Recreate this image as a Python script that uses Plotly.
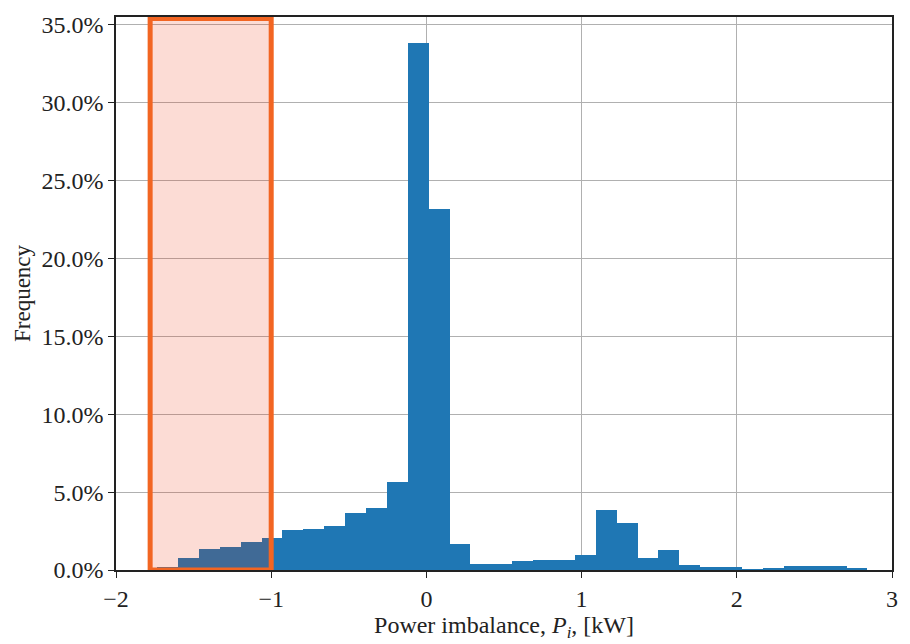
import plotly.graph_objects as go

# Histogram bins (kW): first edge and bin width, 34 bins
bin_start = -1.735
bin_width = 0.1346
# Frequency per bin (%)
freq = [0.20, 0.74, 1.38, 1.46, 1.78, 2.04, 2.55, 2.63, 2.84, 3.65, 4.01, 5.66,
        33.85, 23.2, 1.70, 0.36, 0.40, 0.55, 0.66, 0.66, 0.98, 3.84, 3.01, 0.75,
        1.31, 0.32, 0.17, 0.17, 0.05, 0.12, 0.23, 0.23, 0.23, 0.10]
centers = [bin_start + bin_width * (k + 0.5) for k in range(len(freq))]

x_ticks = [-2, -1, 0, 1, 2, 3]
y_ticks = [0, 5, 10, 15, 20, 25, 30, 35]
box_x = [-1.78, -1.0]
box_y = [0, 35.4]

fig = go.Figure()
fig.add_trace(go.Bar(x=centers, y=freq, width=bin_width,
                     marker=dict(color="#1f77b4", line=dict(width=0))))

# highlighted region: translucent fill over everything, orange outline
fig.add_shape(type="rect", xref="x", yref="y", x0=box_x[0], x1=box_x[1],
              y0=box_y[0], y1=box_y[1], layer="above",
              fillcolor="rgba(236,45,0,0.165)", line=dict(width=0))
fig.add_shape(type="rect", xref="x", yref="y", x0=box_x[0], x1=box_x[1],
              y0=box_y[0], y1=box_y[1], layer="above",
              fillcolor="rgba(0,0,0,0)", line=dict(color="#F26522", width=5))

font = "Liberation Serif, Times New Roman, serif"
fig.update_layout(
    width=910, height=644,
    margin=dict(l=116, r=14, t=16, b=70),
    paper_bgcolor="white", plot_bgcolor="white",
    showlegend=False, bargap=0,
    font=dict(family=font, size=24, color="#222"),
)
fig.update_xaxes(range=[-2, 3], tickvals=x_ticks,
                 ticktext=[("\u2212" + str(-v)) if v < 0 else str(v) for v in x_ticks],
                 showgrid=True, gridcolor="#b0b0b0", gridwidth=1,
                 showline=True, linecolor="#222", linewidth=1.5, mirror=True,
                 ticks="outside", ticklen=6, tickcolor="#222", zeroline=False,
                 tickfont=dict(size=24),
                 title=dict(text="Power imbalance, <i>P<sub>i</sub></i>, [kW]",
                            font=dict(size=24), standoff=4))
fig.update_yaxes(range=[0, 35.5], tickvals=y_ticks,
                 ticktext=[f"{v:.1f}%" for v in y_ticks],
                 showgrid=True, gridcolor="#b0b0b0", gridwidth=1,
                 showline=True, linecolor="#222", linewidth=1.5, mirror=True,
                 ticks="outside", ticklen=6, tickcolor="#222", zeroline=False,
                 tickfont=dict(size=24),
                 title=dict(text="Frequency", font=dict(size=23), standoff=4))

fig.write_html("out.html")
